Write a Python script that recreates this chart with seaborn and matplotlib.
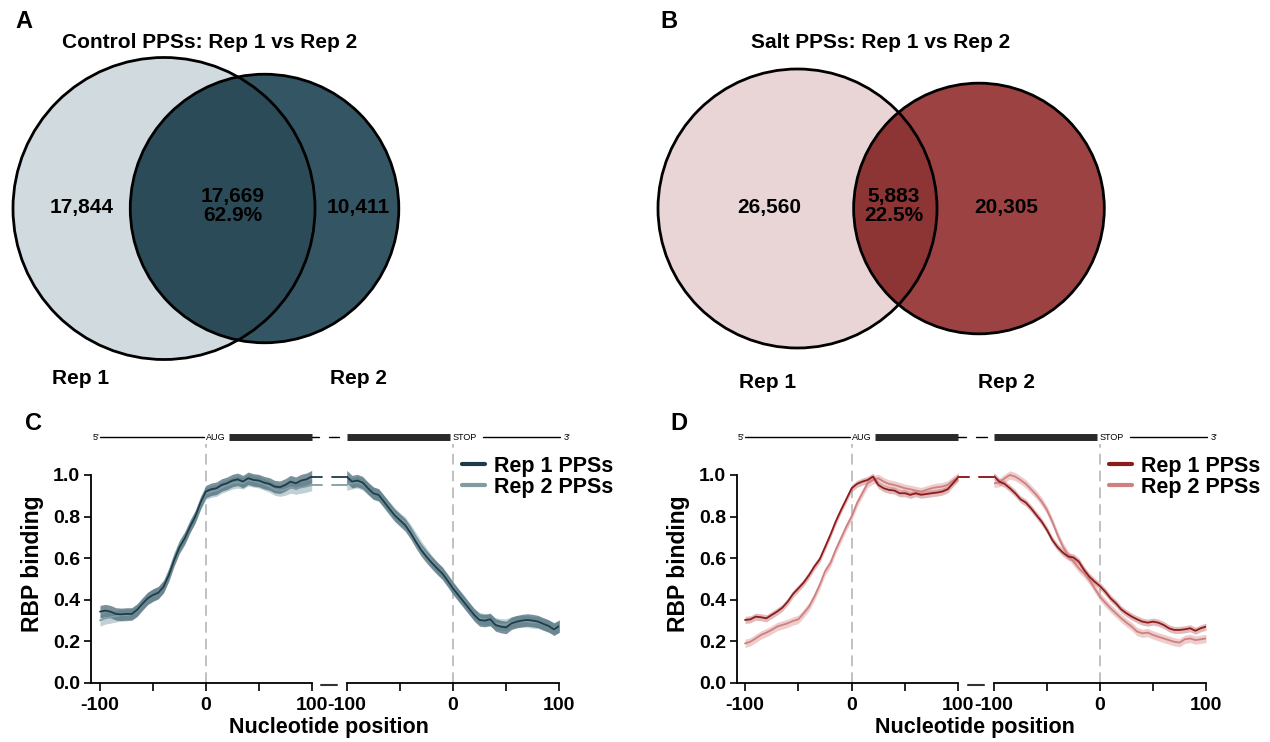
import numpy as np
import pandas as pd
import matplotlib
matplotlib.use("Agg")
import matplotlib.pyplot as plt
import matplotlib.transforms as mtransforms
from matplotlib.patches import Circle
from matplotlib.lines import Line2D
import seaborn as sns

sns.set_style("ticks")
plt.rcParams['font.family'] = ['Liberation Sans', 'DejaVu Sans']
plt.rcParams['font.weight'] = 'bold'
for k in ["text.color", "axes.edgecolor", "xtick.color", "ytick.color", "axes.labelcolor"]:
    plt.rcParams[k] = "black"

# ---------------- data ----------------
control_counts = {"only1": 17844, "both": 17669, "only2": 10411}
control_pct = "62.9%"
salt_counts = {"only1": 26560, "both": 5883, "only2": 20305}
salt_pct = "22.5%"

positions = list(range(-100, 101, 5))

ctrl_start_rep1 = [0.342, 0.347, 0.342, 0.331, 0.329, 0.331, 0.331, 0.350, 0.379, 0.406, 0.422,
                   0.433, 0.462, 0.518, 0.590, 0.652, 0.695, 0.751, 0.800, 0.867, 0.920,
                   0.931, 0.936, 0.952, 0.960, 0.973, 0.979, 0.968, 0.984, 0.976, 0.973,
                   0.963, 0.957, 0.944, 0.941, 0.952, 0.968, 0.960, 0.973, 0.979, 0.992]
ctrl_start_rep2 = [0.300, 0.310, 0.315, 0.320, 0.325, 0.325, 0.330, 0.345, 0.375, 0.405, 0.420,
                   0.435, 0.465, 0.525, 0.600, 0.660, 0.700, 0.755, 0.800, 0.860, 0.910,
                   0.920, 0.925, 0.940, 0.950, 0.960, 0.965, 0.960, 0.975, 0.970, 0.965,
                   0.955, 0.945, 0.930, 0.925, 0.930, 0.940, 0.935, 0.940, 0.945, 0.952]
ctrl_stop_rep1 = [0.992, 0.968, 0.973, 0.963, 0.936, 0.912, 0.904, 0.872, 0.839, 0.807, 0.783,
                  0.759, 0.722, 0.679, 0.639, 0.607, 0.578, 0.551, 0.526, 0.491, 0.454,
                  0.422, 0.390, 0.358, 0.326, 0.302, 0.299, 0.305, 0.278, 0.270, 0.266,
                  0.286, 0.294, 0.299, 0.302, 0.299, 0.294, 0.283, 0.273, 0.257, 0.273]
ctrl_stop_rep2 = [0.955, 0.960, 0.965, 0.955, 0.935, 0.915, 0.905, 0.875, 0.845, 0.815, 0.790,
                  0.770, 0.735, 0.695, 0.655, 0.620, 0.585, 0.555, 0.530, 0.495, 0.460,
                  0.425, 0.395, 0.360, 0.330, 0.310, 0.305, 0.300, 0.285, 0.280, 0.280,
                  0.290, 0.295, 0.295, 0.295, 0.290, 0.290, 0.280, 0.272, 0.262, 0.270]

salt_start_rep1 = [0.302, 0.305, 0.318, 0.315, 0.310, 0.326, 0.342, 0.361, 0.390, 0.427, 0.454,
                   0.482, 0.518, 0.559, 0.594, 0.652, 0.711, 0.775, 0.831, 0.883, 0.936,
                   0.957, 0.968, 0.976, 0.992, 0.952, 0.936, 0.928, 0.925, 0.912, 0.912,
                   0.904, 0.912, 0.905, 0.908, 0.912, 0.915, 0.920, 0.931, 0.960, 0.989]
salt_start_rep2 = [0.189, 0.197, 0.213, 0.230, 0.241, 0.254, 0.270, 0.278, 0.286, 0.297, 0.305,
                   0.334, 0.366, 0.414, 0.470, 0.535, 0.575, 0.639, 0.695, 0.751, 0.800,
                   0.864, 0.912, 0.960, 0.976, 0.984, 0.968, 0.957, 0.952, 0.944, 0.936,
                   0.931, 0.925, 0.920, 0.928, 0.936, 0.941, 0.944, 0.952, 0.973, 0.992]
salt_stop_rep1 = [0.995, 0.968, 0.957, 0.936, 0.912, 0.883, 0.867, 0.839, 0.807, 0.775, 0.735,
                  0.687, 0.652, 0.626, 0.607, 0.603, 0.583, 0.543, 0.510, 0.486, 0.465,
                  0.438, 0.406, 0.382, 0.353, 0.334, 0.318, 0.305, 0.294, 0.289, 0.294,
                  0.289, 0.278, 0.262, 0.254, 0.254, 0.257, 0.262, 0.250, 0.262, 0.270]
salt_stop_rep2 = [0.960, 0.963, 0.984, 1.000, 0.992, 0.976, 0.957, 0.931, 0.904, 0.872, 0.831,
                  0.775, 0.711, 0.655, 0.615, 0.583, 0.551, 0.526, 0.494, 0.454, 0.414,
                  0.385, 0.358, 0.334, 0.310, 0.289, 0.270, 0.246, 0.238, 0.241, 0.230,
                  0.221, 0.213, 0.205, 0.197, 0.193, 0.209, 0.213, 0.205, 0.209, 0.213]

ctrl_band = {"Rep 1 PPSs": 0.030, "Rep 2 PPSs": 0.028}
salt_band = {"Rep 1 PPSs": 0.017, "Rep 2 PPSs": 0.020}

series_names = ["Rep 1 PPSs", "Rep 2 PPSs"]
x_ticks = [-100, -50, 0, 50, 100]
x_ticklabels = ["-100", "", "0", "", "100"]
y_ticks = [0.0, 0.2, 0.4, 0.6, 0.8, 1.0]

# ---------------- figure ----------------
W, H = 1270, 742
fig = plt.figure(figsize=(W / 100, H / 100), dpi=100)
ov = fig.add_axes([0, 0, 1, 1])
ov.set_xlim(0, W)
ov.set_ylim(H, 0)
ov.axis("off")


def lens_area(r1, r2, d):
    if d >= r1 + r2:
        return 0.0
    if d <= abs(r1 - r2):
        return np.pi * min(r1, r2) ** 2
    a1 = r1 ** 2 * np.arccos((d ** 2 + r1 ** 2 - r2 ** 2) / (2 * d * r1))
    a2 = r2 ** 2 * np.arccos((d ** 2 + r2 ** 2 - r1 ** 2) / (2 * d * r2))
    a3 = 0.5 * np.sqrt((-d + r1 + r2) * (d + r1 - r2) * (d - r1 + r2) * (d + r1 + r2))
    return a1 + a2 - a3


def venn(counts, pct, c1, c2, c12, center, scale, title, letter, title_xy, letter_xy,
         txt_only1, txt_only2, txt_both, lab1, lab2):
    n1 = counts["only1"] + counts["both"]
    n2 = counts["only2"] + counts["both"]
    r1 = scale * np.sqrt(n1)
    r2 = scale * np.sqrt(n2)
    target = np.pi * scale ** 2 * counts["both"]
    lo, hi = abs(r1 - r2), r1 + r2
    for _ in range(80):
        mid = 0.5 * (lo + hi)
        if lens_area(r1, r2, mid) > target:
            lo = mid
        else:
            hi = mid
    d = 0.5 * (lo + hi)
    cx, cy = center
    C1 = Circle((cx, cy), r1, facecolor=c1, edgecolor="none", zorder=1)
    C2 = Circle((cx + d, cy), r2, facecolor=c2, edgecolor="none", zorder=1)
    ov.add_patch(C1)
    ov.add_patch(C2)
    Cint = Circle((cx, cy), r1, facecolor=c12, edgecolor="none", zorder=2)
    ov.add_patch(Cint)
    Cint.set_clip_path(C2)
    for (x0, r) in [(cx, r1), (cx + d, r2)]:
        ov.add_patch(Circle((x0, cy), r, facecolor="none", edgecolor="black", lw=2.0, zorder=3))
    kw = dict(ha="center", va="center", fontsize=15, fontweight="bold", zorder=4, color="black")
    ov.text(txt_only1[0], txt_only1[1], f"{counts['only1']:,}", **kw)
    ov.text(txt_only2[0], txt_only2[1], f"{counts['only2']:,}", **kw)
    ov.text(txt_both[0], txt_both[1], f"{counts['both']:,}\n{pct}", linespacing=0.95, **kw)
    ov.text(lab1[0], lab1[1], "Rep 1", **kw)
    ov.text(lab2[0], lab2[1], "Rep 2", **kw)
    ov.text(title_xy[0], title_xy[1], title, ha="center", va="center", fontsize=15,
            fontweight="bold")
    ov.text(letter_xy[0], letter_xy[1], letter, ha="center", va="center", fontsize=17,
            fontweight="bold")


venn(control_counts, control_pct, "#d1dade", "#345664", "#2b4b58", (164, 208.5), 0.8013,
     "Control PPSs: Rep 1 vs Rep 2", "A", (210, 43), (24, 21),
     (82, 207), (358, 207), (233, 206), (81, 379), (359, 379))
venn(salt_counts, salt_pct, "#ead5d6", "#9c4242", "#8d3434", (797.5, 208.5), 0.7745,
     "Salt PPSs: Rep 1 vs Rep 2", "B", (881, 43), (669, 21),
     (769, 207), (1006, 207), (894, 206), (768, 382), (1006, 382))

# ---------------- profile panels ----------------
y0_px, top_px = 682.7, 443.8
ax_bottom = 1 - y0_px / H
ax_height = (y0_px - top_px) / H
YMAX = 1.15


def make_df(vals1, vals2):
    return pd.DataFrame({
        "pos": positions * 2,
        "value": list(vals1) + list(vals2),
        "rep": [series_names[0]] * len(positions) + [series_names[1]] * len(positions),
    })


def profile(left_px, spine_px, mid_px, right_start_px, right_end_px, start1, start2, stop1, stop2,
            line_cols, band_cols, band_alpha, band, letter, legend_x):
    px_per_nt = (mid_px - left_px) / 200.0
    xmin = -100 - (left_px - spine_px) / px_per_nt
    axL = fig.add_axes([spine_px / W, ax_bottom, (mid_px - spine_px) / W, ax_height])
    axR = fig.add_axes([right_start_px / W, ax_bottom, (right_end_px - right_start_px) / W, ax_height])
    pal = dict(zip(series_names, line_cols))
    for ax, v1, v2, xl in [(axL, start1, start2, (xmin, 100)), (axR, stop1, stop2, (-100, 100))]:
        ax.patch.set_alpha(0)
        df = make_df(v1, v2)
        for name, vals, bc, al in zip(series_names[::-1], [v2, v1], band_cols[::-1], band_alpha[::-1]):
            arr = np.array(vals)
            ax.fill_between(positions, arr - band[name], arr + band[name], color=bc, alpha=al,
                            lw=0, zorder=2)
        sns.lineplot(data=df[df.rep == series_names[1]], x="pos", y="value", color=pal[series_names[1]],
                     lw=1.3, ax=ax, legend=False, errorbar=None, zorder=3)
        sns.lineplot(data=df[df.rep == series_names[0]], x="pos", y="value", color=pal[series_names[0]],
                     lw=1.3, ax=ax, legend=False, errorbar=None, zorder=4)
        ax.set_xlim(*xl)
        ax.set_ylim(0, YMAX)
        ax.axvline(0, color="#b0b0b0", lw=1.1, ls=(0, (7, 4)), zorder=1)
        ax.set_xlabel("")
        ax.set_ylabel("")
        ax.set_xticks(x_ticks)
        ax.set_xticklabels(x_ticklabels)
        ax.tick_params(axis="x", length=6, width=1.2, labelsize=14, pad=4, colors="black")
        for lab in ax.get_xticklabels():
            lab.set_fontweight("bold")
        ax.spines["top"].set_visible(False)
        ax.spines["right"].set_visible(False)
        ax.spines["bottom"].set_linewidth(1.3)
        ax.spines["left"].set_linewidth(1.3)
    axL.spines["bottom"].set_bounds(xmin, 100)
    axR.spines["bottom"].set_bounds(-100, 100)
    axL.spines["left"].set_bounds(0, 1.0)
    axL.set_yticks(y_ticks)
    axL.set_yticklabels([f"{t:.1f}" for t in y_ticks])
    axL.tick_params(axis="y", length=5, width=1.2, labelsize=14, pad=3, colors="black")
    for lab in axL.get_yticklabels():
        lab.set_fontweight("bold")
    axL.set_ylabel("RBP binding", fontsize=16.5, fontweight="bold", labelpad=6)
    axR.spines["left"].set_visible(False)
    axR.set_yticks([])
    # break stubs at the left-segment end values
    for name, vals in zip(series_names[::-1], [start2, start1]):
        axL.plot([100, 110], [vals[-1]] * 2, color=pal[name], lw=1.3, clip_on=False, zorder=5)
        axR.plot([-114, -100], [vals[-1]] * 2, color=pal[name], lw=1.3, clip_on=False, zorder=5)
    # x-axis break dash
    mx = 0.5 * (mid_px + right_start_px)
    ov.plot([mx - 8, mx + 8], [y0_px + 2.5] * 2, color="#333333", lw=1.5)
    # x label
    fig.text(0.5 * (spine_px + right_end_px) / W + 0.003, 1 - 728 / H, "Nucleotide position",
             ha="center", va="center", fontsize=15.5, fontweight="bold")
    # panel letter
    fig.text((spine_px - 58) / W, 1 - 423 / H, letter, ha="center", va="center", fontsize=17,
             fontweight="bold")
    # gene schematic
    ys = (y0_px - 437) / (y0_px - top_px)
    trL = mtransforms.blended_transform_factory(axL.transData, axL.transAxes)
    trR = mtransforms.blended_transform_factory(axR.transData, axR.transAxes)
    sk = dict(fontsize=6.5, fontweight="normal", va="center")
    axL.text(-101, ys, "5'", ha="right", transform=trL, **sk)
    axL.plot([-100, -2], [ys, ys], color="k", lw=1.0, transform=trL, clip_on=False)
    axL.text(0, ys, "AUG", ha="left", transform=trL, **sk)
    axL.plot([22, 100], [ys, ys], color="#2a2a2a", lw=5, solid_capstyle="butt", transform=trL, clip_on=False)
    axL.plot([100, 107], [ys, ys], color="k", lw=1.0, transform=trL, clip_on=False)
    axR.plot([-117, -107], [ys, ys], color="k", lw=1.0, transform=trR, clip_on=False)
    axR.plot([-100, -3], [ys, ys], color="#2a2a2a", lw=5, solid_capstyle="butt", transform=trR, clip_on=False)
    axR.text(0, ys, "STOP", ha="left", transform=trR, **sk)
    axR.plot([28, 101], [ys, ys], color="k", lw=1.0, transform=trR, clip_on=False)
    axR.text(104, ys, "3'", ha="left", transform=trR, **sk)
    # legend
    handles = [Line2D([], [], color=c, lw=3) for c in line_cols]
    leg = axR.legend(handles, series_names, loc="upper left",
                     bbox_to_anchor=(legend_x / W, 1 - 456 / H), bbox_transform=fig.transFigure,
                     frameon=False, fontsize=15.5, handlelength=1.05, handletextpad=0.45,
                     labelspacing=0.0, borderpad=0, borderaxespad=0)
    for t in leg.get_texts():
        t.set_fontweight("bold")
        t.set_color("black")


profile(100, 91, 311.7, 346.7, 559.3, ctrl_start_rep1, ctrl_start_rep2, ctrl_stop_rep1, ctrl_stop_rep2,
        ["#1d3c49", "#7f9ca5"], ["#4d6d79", "#a6bcc3"], [0.75, 0.7], ctrl_band, "C", 462)
profile(745, 737, 958.3, 994, 1206, salt_start_rep1, salt_start_rep2, salt_stop_rep1, salt_stop_rep2,
        ["#8e1b1b", "#cf8080"], ["#bb6666", "#e3adad"], [0.45, 0.6], salt_band, "D", 1109)

fig.savefig("out.png", dpi=100)
